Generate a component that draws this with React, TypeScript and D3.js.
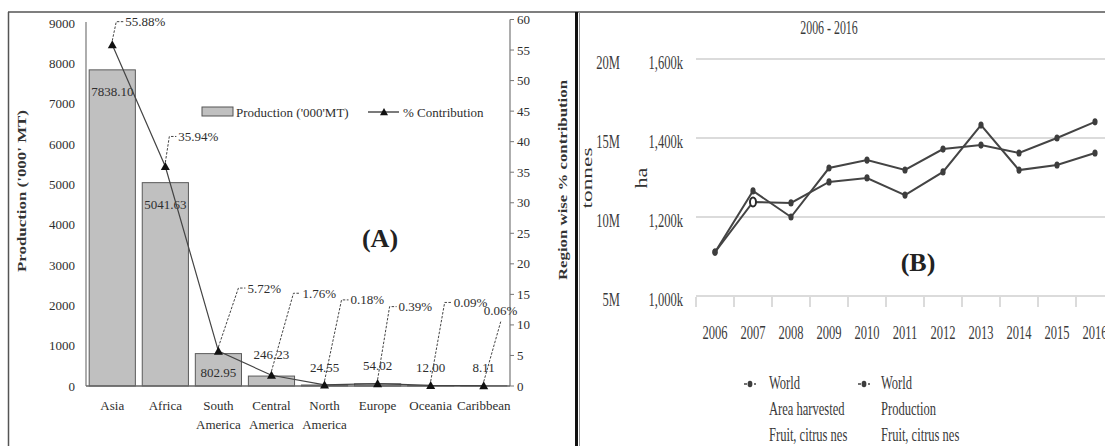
import React from "react";
import * as d3 from "d3";

// ---------- Panel A data ----------
const categories = ["Asia", "Africa", "South America", "Central America", "North America", "Europe", "Oceania", "Caribbean"];
const production = [7838.10, 5041.63, 802.95, 246.23, 24.55, 54.02, 12.00, 8.11];
const contribution = [55.88, 35.94, 5.72, 1.76, 0.18, 0.39, 0.09, 0.06];
const leftTicks = [0, 1000, 2000, 3000, 4000, 5000, 6000, 7000, 8000, 9000];
const rightTicks = [0, 5, 10, 15, 20, 25, 30, 35, 40, 45, 50, 55, 60];

// ---------- Panel B data ----------
const years = ["2006", "2007", "2008", "2009", "2010", "2011", "2012", "2013", "2014", "2015", "2016"];
const areaHarvestedK = [1111, 1266, 1200, 1324, 1344, 1319, 1372, 1382, 1362, 1400, 1441];
const productionM = [7.78, 10.95, 10.89, 12.22, 12.47, 11.39, 12.85, 15.82, 12.97, 13.29, 14.05];
const tonnesTicks = [5, 10, 15, 20];
const haTicks = [1000, 1200, 1400, 1600];

// layout offsets for the dragged % labels (pixels, relative to each marker)
const pctLabelDx = [13, 13, 29, 31, 26, 21, 23, 0];
const pctLabelDy = [-23, -30, -63, -82, -85, -77, -83, -75];

const SERIF = "'Liberation Serif', 'Times New Roman', serif";

function CText(props: any) {
  const { x, y, sx = 0.66, size = 19, anchor = "start", fill = "#3a3a3a", weight = "normal", children } = props;
  return (
    <text
      transform={`translate(${x},${y}) scale(${sx},1)`}
      textAnchor={anchor}
      dominantBaseline="central"
      fontFamily={SERIF}
      fontSize={size}
      fontWeight={weight}
      fill={fill}
    >
      {children}
    </text>
  );
}

export default function App() {
  // ----- Panel A scales -----
  const x = d3.scaleBand<string>().domain(categories).range([86, 510]).paddingInner(0.13).paddingOuter(0.06);
  const yL = d3.scaleLinear().domain([0, 9000]).range([386, 23]);
  const yR = d3.scaleLinear().domain([0, 60]).range([386, 19.5]);
  const cx = (c: string) => (x(c) as number) + x.bandwidth() / 2;

  const pctLine = d3.line<number>().x((_, i) => cx(categories[i])).y((d) => yR(d))(contribution) as string;
  const tri = (px: number, py: number, s = 4.5) =>
    `M${px},${py - s}L${px + s},${py + s * 0.8}L${px - s},${py + s * 0.8}Z`;

  // ----- Panel B scales -----
  const xb = d3.scaleBand<string>().domain(years).range([696, 1114]);
  const bx = (yv: string) => (xb(yv) as number) + xb.bandwidth() / 2;
  const yT = d3.scaleLinear().domain([5, 20]).range([296, 59]);
  const yH = d3.scaleLinear().domain([1000, 1600]).range([296, 59]);
  const haLine = d3.line<number>().x((_, i) => bx(years[i])).y((d) => yH(d))(areaHarvestedK) as string;
  const tLine = d3.line<number>().x((_, i) => bx(years[i])).y((d) => yT(d))(productionM) as string;
  const fmtK = (v: number) => d3.format(",")(v) + "k";
  const fmtM = (v: number) => v + "M";
  const tickEdges = d3.range(years.length + 1).map((i) => 696 + i * xb.step());

  const textCol = "#2e2e2e";

  return (
    <svg
      width={1105}
      height={446}
      style={{ position: "absolute", left: 0, top: 0, background: "#fff" }}
      fontFamily={SERIF}
    >
      <rect x={0} y={0} width={1105} height={446} fill="#fff" />
      {/* frames */}
      <line x1={8} y1={12} x2={1105} y2={12} stroke="#555" strokeWidth={1.5} />
      <line x1={8.5} y1={12} x2={8.5} y2={446} stroke="#555" strokeWidth={1.5} />
      <line x1={576.5} y1={12} x2={576.5} y2={446} stroke="#111" strokeWidth={3} />
      <line x1={579.5} y1={12} x2={579.5} y2={446} stroke="#999" strokeWidth={1} />

      {/* ================= Panel A ================= */}
      {/* left axis */}
      <line x1={86} y1={22} x2={86} y2={386} stroke="#777" strokeWidth={1.2} />
      {leftTicks.map((t) => (
        <text key={t} x={75} y={yL(t)} textAnchor="end" dominantBaseline="central" fontSize={13} fill={textCol}>
          {t}
        </text>
      ))}
      {/* right axis */}
      <line x1={510} y1={yR(60)} x2={510} y2={386} stroke="#777" strokeWidth={1.2} />
      {rightTicks.map((t) => (
        <g key={t}>
          <line x1={510} x2={514} y1={yR(t)} y2={yR(t)} stroke="#777" strokeWidth={1} />
          <text x={517} y={yR(t)} dominantBaseline="central" fontSize={13} fill={textCol}>
            {t}
          </text>
        </g>
      ))}
      {/* axis titles */}
      <text
        transform="translate(26,191) rotate(-90)"
        textAnchor="middle"
        fontSize={13}
        fontWeight="bold"
        fill="#333"
        textLength={162}
        lengthAdjust="spacingAndGlyphs"
      >
        Production ('000' MT)
      </text>
      <text
        transform="translate(567,180) rotate(-90)"
        textAnchor="middle"
        fontSize={13}
        fontWeight="bold"
        fill="#333"
        textLength={200}
        lengthAdjust="spacingAndGlyphs"
      >
        Region wise % contribution
      </text>

      {/* bars */}
      {categories.map((c, i) => (
        <rect
          key={c}
          x={x(c)}
          y={yL(production[i])}
          width={x.bandwidth()}
          height={386 - yL(production[i])}
          fill="#c0c0c0"
          stroke="#5a5a5a"
          strokeWidth={1}
        />
      ))}
      <line x1={86} y1={386} x2={510} y2={386} stroke="#666" strokeWidth={1.5} />

      {/* bar value labels */}
      {categories.map((c, i) => {
        const top = yL(production[i]);
        const h = 386 - top;
        const ly = h > 100 ? top + 22 : h > 25 ? top + h / 2 + 3 : top - (h > 6 ? 22 : 18);
        return (
          <text key={c} x={cx(c)} y={ly} textAnchor="middle" dominantBaseline="central" fontSize={13} fill={textCol}>
            {production[i].toFixed(2)}
          </text>
        );
      })}

      {/* contribution line */}
      <path d={pctLine} fill="none" stroke="#444" strokeWidth={1.2} />
      {categories.map((c, i) => (
        <path key={c} d={tri(cx(c), yR(contribution[i]))} fill="#111" />
      ))}

      {/* % labels with dashed leaders */}
      {categories.map((c, i) => {
        const px = cx(c);
        const py = yR(contribution[i]) - 4;
        const lx = px + pctLabelDx[i];
        const ly = yR(contribution[i]) + pctLabelDy[i];
        const hook = pctLabelDx[i] > 0;
        const pts = hook
          ? `${px},${py} ${lx - 9},${ly} ${lx - 2},${ly}`
          : `${px},${py} ${lx + 17},${ly + 11}`;
        return (
          <g key={c}>
            <polyline points={pts} fill="none" stroke="#444" strokeWidth={1} strokeDasharray="2.5,1.5" />
            <text x={lx} y={ly} dominantBaseline="central" fontSize={13} fill={textCol}>
              {contribution[i].toFixed(2)}%
            </text>
          </g>
        );
      })}

      {/* category labels */}
      {categories.map((c) => {
        const parts = c.split(" ");
        return (
          <text key={c} x={cx(c)} y={405} textAnchor="middle" dominantBaseline="central" fontSize={13} fill={textCol}>
            {parts.map((p, j) => (
              <tspan key={j} x={cx(c)} dy={j === 0 ? 0 : 19}>
                {p}
              </tspan>
            ))}
          </text>
        );
      })}

      {/* legend A */}
      <rect x={202} y={107} width={31} height={9} fill="#c0c0c0" stroke="#555" strokeWidth={1} />
      <text x={236} y={112} dominantBaseline="central" fontSize={13} fill={textCol}>
        Production ('000'MT)
      </text>
      <line x1={368} x2={399} y1={112} y2={112} stroke="#333" strokeWidth={1.3} />
      <path d={tri(384, 112, 4)} fill="#111" />
      <text x={403} y={112} dominantBaseline="central" fontSize={13} fill={textCol}>
        % Contribution
      </text>

      <text x={380} y={238} textAnchor="middle" dominantBaseline="central" fontSize={26} fontWeight="bold" fill="#222">
        (A)
      </text>

      {/* ================= Panel B ================= */}
      <CText x={829} y={28} anchor="middle" size={18}>
        2006 - 2016
      </CText>

      {/* gridlines */}
      {tonnesTicks.map((t, i) => (
        <g key={t}>
          <line x1={696} x2={1105} y1={yT(t)} y2={yT(t)} stroke="#cfcfcf" strokeWidth={1.5} />
          <CText x={620} y={yT(t) + 4} anchor="end">
            {fmtM(t)}
          </CText>
          <CText x={683} y={yH(haTicks[i]) + 4} anchor="end">
            {fmtK(haTicks[i])}
          </CText>
        </g>
      ))}
      {tickEdges.map((tx, i) => (
        <line key={i} x1={tx} x2={tx} y1={297} y2={307} stroke="#cfcfcf" strokeWidth={1.5} />
      ))}
      {years.map((yv) => (
        <CText key={yv} x={bx(yv)} y={333} anchor="middle">
          {yv}
        </CText>
      ))}

      <text
        transform="translate(592,178) rotate(-90)"
        textAnchor="middle"
        fontSize={15}
        fill="#333"
        textLength={61}
        lengthAdjust="spacingAndGlyphs"
      >
        tonnes
      </text>
      <text
        transform="translate(647,178) rotate(-90)"
        textAnchor="middle"
        fontSize={16}
        fill="#333"
        textLength={21}
        lengthAdjust="spacingAndGlyphs"
      >
        ha
      </text>

      {/* lines */}
      <path d={haLine} fill="none" stroke="#444" strokeWidth={2} />
      <path d={tLine} fill="none" stroke="#444" strokeWidth={2} />
      {areaHarvestedK.map((v, i) => (
        <ellipse key={"a" + i} cx={bx(years[i])} cy={yH(v)} rx={2.6} ry={3.6} fill="#3d3d3d" />
      ))}
      {productionM.map((v, i) =>
        i === 1 ? (
          <ellipse key={"p" + i} cx={bx(years[i])} cy={yT(v)} rx={3} ry={4.5} fill="#fff" stroke="#2a2a2a" strokeWidth={2} />
        ) : (
          <ellipse key={"p" + i} cx={bx(years[i])} cy={yT(v)} rx={2.6} ry={3.6} fill="#3d3d3d" />
        )
      )}

      <text x={918} y={262} textAnchor="middle" dominantBaseline="central" fontSize={26} fontWeight="bold" fill="#222">
        (B)
      </text>

      {/* legend B */}
      {[
        { mx: 750, tx: 769, lines: ["World", "Area harvested", "Fruit, citrus nes"] },
        { mx: 864, tx: 881, lines: ["World", "Production", "Fruit, citrus nes"] },
      ].map((lg, k) => (
        <g key={k}>
          <line x1={lg.mx - 6} x2={lg.mx + 6} y1={384} y2={384} stroke="#444" strokeWidth={1.5} strokeDasharray="3,2" />
          <ellipse cx={lg.mx} cy={384} rx={2.4} ry={3.2} fill="#3d3d3d" />
          {lg.lines.map((t, j) => (
            <CText key={j} x={lg.tx} y={383 + j * 26}>
              {t}
            </CText>
          ))}
        </g>
      ))}
    </svg>
  );
}
